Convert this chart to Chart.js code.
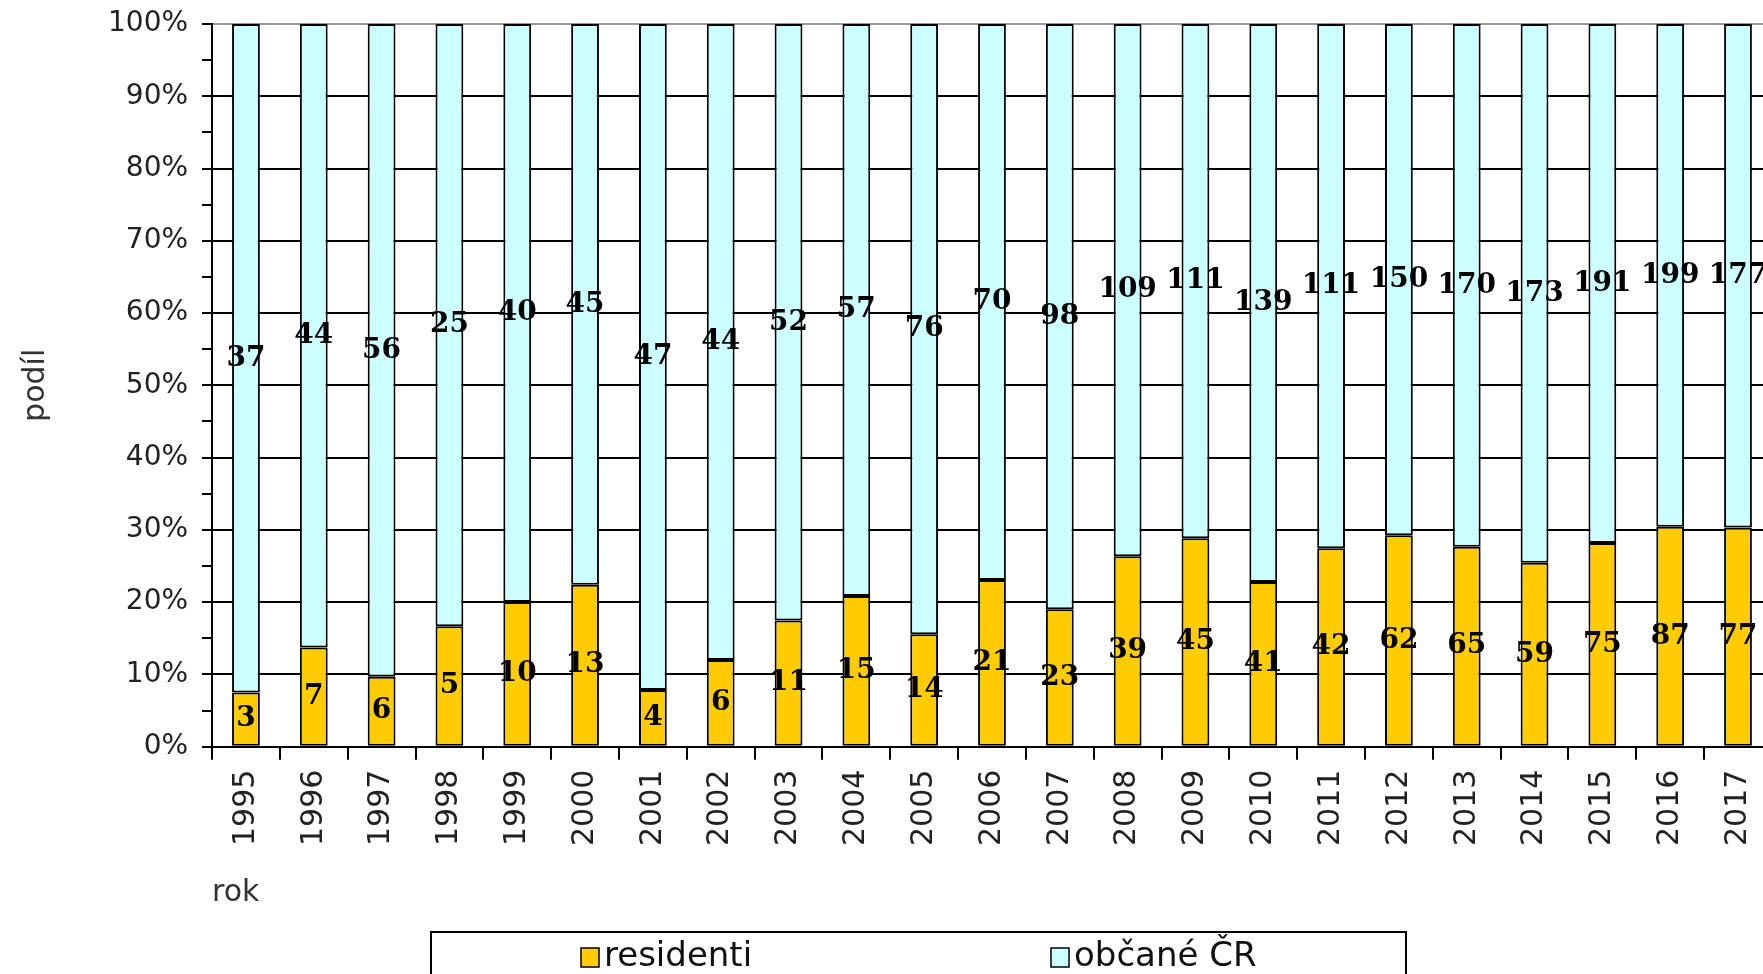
<!DOCTYPE html>
<html><head><meta charset="utf-8">
<script src="https://cdn.jsdelivr.net/npm/chart.js@4/dist/chart.umd.min.js"></script>
<style>html,body{margin:0;padding:0;overflow:hidden;background:#fff}
#wrap{position:relative;width:1784px;height:974px}</style></head>
<body><div id="wrap"><canvas id="c"></canvas></div>
<script>
const years = ['1995','1996','1997','1998','1999','2000','2001','2002','2003','2004','2005','2006','2007','2008','2009','2010','2011','2012','2013','2014','2015','2016','2017'];
const residenti = [3,7,6,5,10,13,4,6,11,15,14,21,23,39,45,41,42,62,65,59,75,87,77];
const obcane = [37,44,56,25,40,45,47,44,52,57,76,70,98,109,111,139,111,150,170,173,191,199,177];
const seriesNames = ['residenti','občané ČR'];
const seriesColors = ['#FFCC00','#CCFFFF'];

const totals = residenti.map((v,i)=>v+obcane[i]);
const residentiPct = residenti.map((v,i)=>v/totals[i]*100);
const obcanePct = obcane.map((v,i)=>v/totals[i]*100);

const valueLabels = {
  id:'valueLabels',
  afterDatasetsDraw(chart){
    const ctx=chart.ctx; ctx.save();
    ctx.font='bold 28px "DejaVu Serif"'; ctx.fillStyle='#000';
    ctx.textAlign='center'; ctx.textBaseline='middle';
    chart.data.datasets.forEach((ds,di)=>{
      const meta=chart.getDatasetMeta(di);
      meta.data.forEach((bar,i)=>{
        const p=bar.getProps(['x','y','base'],true);
        ctx.fillText(String(ds.counts[i]), p.x, (p.y+p.base)/2);
      });
    });
    ctx.restore();
  }
};

const boxLegend = {
  id:'boxLegend',
  afterDraw(chart){
    const ctx=chart.ctx; ctx.save();
    ctx.strokeStyle='#000'; ctx.lineWidth=2;
    ctx.strokeRect(431,932,975,60);
    const xs=[581,1051];
    ctx.font='34px "DejaVu Sans"'; ctx.textBaseline='middle'; ctx.textAlign='left';
    chart.data.datasets.forEach((ds,i)=>{
      ctx.fillStyle=ds.backgroundColor; ctx.fillRect(xs[i],948,18,19);
      ctx.lineWidth=1.5; ctx.strokeRect(xs[i],948,18,19);
      ctx.fillStyle='#111'; ctx.fillText(ds.label, xs[i]+23, 957);
    });
    ctx.restore();
  }
};

new Chart(document.getElementById('c'), {
  type:'bar',
  data:{
    labels: years,
    datasets:[
      {label:seriesNames[0], data:residentiPct, counts:residenti, backgroundColor:seriesColors[0], borderColor:'#000', borderWidth:2, borderSkipped:false, categoryPercentage:1, barPercentage:0.41},
      {label:seriesNames[1], data:obcanePct, counts:obcane, backgroundColor:seriesColors[1], borderColor:'#000', borderWidth:2, borderSkipped:false, categoryPercentage:1, barPercentage:0.41}
    ]
  },
  options:{
    responsive:true, maintainAspectRatio:false, animation:false,
    layout:{padding:{top:24,left:0,right:0,bottom:63}},
    plugins:{legend:{display:false}, tooltip:{enabled:false}},
    scales:{
      x:{
        stacked:true,
        ticks:{minRotation:90,maxRotation:90,autoSkip:false,font:{family:'DejaVu Sans',size:30},color:'#222',padding:10},
        grid:{offset:true,drawOnChartArea:false,color:'#000',lineWidth:2,tickLength:13},
        border:{color:'#000',width:2},
        title:{display:true,text:'rok',align:'start',font:{family:'DejaVu Sans',size:30},color:'#333',padding:{top:19,bottom:0}}
      },
      y:{
        stacked:true, min:0, max:100,
        ticks:{stepSize:5,autoSkip:false,callback:(v)=> v%10===0 ? v+'%' : '',font:{family:'DejaVu Sans',size:28,lineHeight:0.5},color:'#222',padding:14},
        grid:{color:(c)=> (c.tick && c.tick.value%10===0) ? (c.tick.value===100?'#999':'#000') : 'rgba(0,0,0,0)', tickColor:'#000', lineWidth:2, tickLength:10},
        border:{color:'#000',width:2},
        title:{display:true,text:'podíl',font:{family:'DejaVu Sans',size:30},color:'#333',padding:{top:18,bottom:40}}
      }
    }
  },
  plugins:[valueLabels, boxLegend]
});
</script></body></html>
